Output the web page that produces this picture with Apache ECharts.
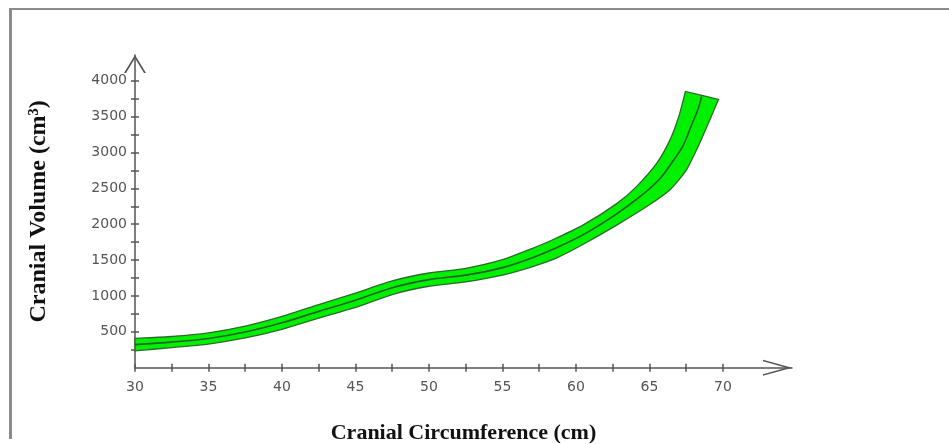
<!DOCTYPE html>
<html>
<head>
<meta charset="utf-8">
<script src="https://cdn.jsdelivr.net/npm/echarts@6/dist/echarts.min.js"></script>
<style>
html,body{margin:0;padding:0;background:#fff;}
#c{width:949px;height:444px;position:absolute;left:0;top:0;}
#frame{position:absolute;left:9px;top:8px;right:0;bottom:5px;border-left:3px solid #8c8c8c;border-top:2px solid #8c8c8c;pointer-events:none;}
</style>
</head>
<body>
<div id="c"></div>
<div id="frame"></div>
<script>
// Upper (left) boundary of the green band: [circumference cm, volume cm3]
const upperBound = [
  [30, 410], [32.5, 435], [35, 485], [37.5, 580], [40, 715], [42.5, 880],
  [45, 1040], [47.5, 1210], [50, 1320], [52.5, 1385], [55, 1505], [57, 1660],
  [58.5, 1790], [60.5, 1990], [62.8, 2290], [64.1, 2520], [65.5, 2850],
  [66.4, 3175], [67, 3500], [67.45, 3850]
];
// Lower (right) boundary of the green band
const lowerBound = [
  [30, 235], [32.5, 280], [35, 330], [37.5, 415], [40, 535], [42.5, 690],
  [45, 840], [47.5, 1020], [50, 1135], [52.5, 1195], [55, 1290], [57, 1405],
  [58.7, 1530], [60.5, 1720], [62.8, 1990], [65, 2270], [66.4, 2480],
  [67.5, 2750], [68.4, 3120], [69.1, 3450], [69.7, 3740]
];
// Central (mean) curve
const centerLine = [
  [30, 322], [32.5, 357], [35, 408], [37.5, 497], [40, 625], [42.5, 785],
  [45, 940], [47.5, 1115], [50, 1228], [52.5, 1290], [55, 1395], [57, 1530],
  [58.6, 1665], [60.5, 1855], [62.6, 2120], [64.4, 2390], [65.7, 2630],
  [66.5, 2850], [67.3, 3100], [67.9, 3400], [68.3, 3600], [68.55, 3780]
];
const xTickValues = [30, 32.5, 35, 37.5, 40, 42.5, 45, 47.5, 50, 52.5, 55, 57.5, 60, 62.5, 65, 67.5, 70];
const xLabelValues = [30, 35, 40, 45, 50, 55, 60, 65, 70];
const yTickValues = [250, 500, 750, 1000, 1250, 1500, 1750, 2000, 2250, 2500, 2750, 3000, 3250, 3500, 3750, 4000];
const yLabelValues = [500, 1000, 1500, 2000, 2500, 3000, 3500, 4000];
const xTitle = 'Cranial Circumference (cm)';
const yTitle = 'Cranial Volume (cm\u00B3)';

// closed outline of the band; corner points doubled so the smoothing keeps them sharp
function withSharpCorners(upper, lower) {
  const up = upper.slice();
  const lo = lower.slice().reverse();
  const ring = [];
  up.forEach(function (p, i) {
    ring.push(p);
    if (i === 0 || i === up.length - 1) ring.push(p);
  });
  lo.forEach(function (p, i) {
    ring.push(p);
    if (i === 0 || i === lo.length - 1) ring.push(p);
  });
  return ring;
}
const bandRing = withSharpCorners(upperBound, lowerBound);

const axisColor = '#555';
const labelStyle = {color: '#555', fontFamily: 'DejaVu Sans', fontSize: 14, formatter: function (v) { return String(v); }};
const xArrow = 'path://M0,290 L80,0 L160,290 L145,290 L80,58 L15,290 Z';
const yArrow = 'path://M0,180 L110,0 L220,180 L200,180 L110,33 L20,180 Z';

const chart = echarts.init(document.getElementById('c'), null, {renderer: 'canvas'});
chart.setOption({
  animation: false,
  backgroundColor: 'transparent',
  grid: {left: 135, right: 157, top: 55, bottom: 76.3, containLabel: false, outerBoundsMode: 'none'},
  xAxis: [{
    type: 'value', min: 30, max: 74.7, position: 'bottom',
    axisLine: {show: true, symbol: ['none', xArrow], symbolSize: [16, 29], symbolOffset: [0, -14.5],
      lineStyle: {color: axisColor, width: 1.5}},
    axisTick: {show: true, inside: false, length: 4, customValues: xTickValues, lineStyle: {color: axisColor, width: 1.5}},
    axisLabel: Object.assign({show: true, margin: 13, customValues: xLabelValues}, labelStyle),
    splitLine: {show: false},
    name: xTitle, nameLocation: 'middle', nameGap: 55,
    nameTextStyle: {fontFamily: 'Liberation Serif', fontWeight: 'bold', fontSize: 22, color: '#111'}
  }, {
    type: 'value', min: 30, max: 74.7, position: 'bottom', offset: 0,
    axisLine: {show: false},
    axisTick: {show: true, inside: true, length: 4, customValues: xTickValues, lineStyle: {color: axisColor, width: 1.5}},
    axisLabel: {show: false},
    splitLine: {show: false}
  }],
  yAxis: [{
    type: 'value', min: 0, max: 4358, position: 'left',
    axisLine: {show: true, symbol: ['none', yArrow], symbolSize: [22, 18], symbolOffset: [0, -9],
      lineStyle: {color: axisColor, width: 1.5}},
    axisTick: {show: true, inside: false, length: 4, customValues: yTickValues, lineStyle: {color: axisColor, width: 1.5}},
    axisLabel: Object.assign({show: true, margin: 8, customValues: yLabelValues}, labelStyle),
    splitLine: {show: false},
    name: yTitle, nameLocation: 'middle', nameGap: 84, nameRotate: 90,
    nameTextStyle: {fontFamily: 'Liberation Serif', fontWeight: 'bold', fontSize: 24, color: '#111'}
  }, {
    type: 'value', min: 0, max: 4358, position: 'left', offset: 0,
    axisLine: {show: false},
    axisTick: {show: true, inside: true, length: 4, customValues: yTickValues, lineStyle: {color: axisColor, width: 1.5}},
    axisLabel: {show: false},
    splitLine: {show: false}
  }],
  series: [{
    type: 'custom',
    coordinateSystem: 'cartesian2d',
    xAxisIndex: 0, yAxisIndex: 0,
    silent: true,
    clip: false,
    data: bandRing,
    renderItem: function (params, api) {
      if (params.dataIndex !== 0) return null;
      const pts = bandRing.map(function (p) { return api.coord(p); });
      return {
        type: 'polygon',
        shape: {points: pts, smooth: 0.2},
        style: {fill: '#00f000', stroke: '#2d6a2d', lineWidth: 1.3}
      };
    },
    z: 2
  }, {
    type: 'line',
    xAxisIndex: 0, yAxisIndex: 0,
    data: centerLine,
    smooth: 0.3,
    showSymbol: false,
    symbol: 'none',
    silent: true,
    lineStyle: {color: '#22602a', width: 1.6},
    z: 3
  }]
});
</script>
</body>
</html>
